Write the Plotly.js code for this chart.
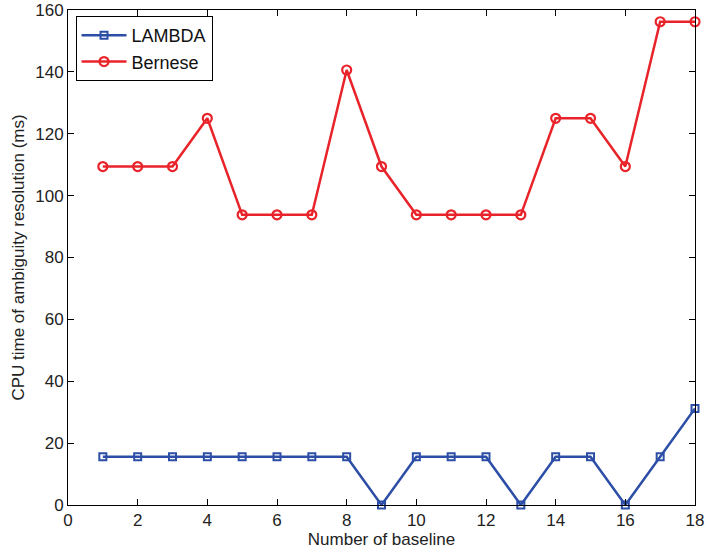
<!DOCTYPE html>
<html><head><meta charset="utf-8">
<script src="https://cdn.plot.ly/plotly-3.0.1.min.js"></script>
<style>body{margin:0;background:#fff}#c{width:705px;height:555px}</style>
</head><body><div id="c"></div>
<script>
var baselines = [1,2,3,4,5,6,7,8,9,10,11,12,13,14,15,16,17,18];
var lambdaMs = [15.6,15.6,15.6,15.6,15.6,15.6,15.6,15.6,0,15.6,15.6,15.6,0,15.6,15.6,0,15.6,31.2];
var berneseMs = [109.4,109.4,109.4,125,93.8,93.8,93.8,140.6,109.4,93.8,93.8,93.8,93.8,125,125,109.4,156.2,156.2];
var xTicks = [0,2,4,6,8,10,12,14,16,18];
var yTicks = [0,20,40,60,80,100,120,140,160];

var traces = [
 {x: baselines, y: lambdaMs, name: 'LAMBDA', mode: 'lines+markers', cliponaxis: false,
  line: {color: '#2d4ea6', width: 2.5},
  marker: {symbol: 'square-open', size: 7, color: '#2d4ea6', line: {width: 2, color: '#2d4ea6'}}},
 {x: baselines, y: berneseMs, name: 'Bernese', mode: 'lines+markers', cliponaxis: false,
  line: {color: '#e8232a', width: 2.5},
  marker: {symbol: 'circle-open', size: 9, color: '#e8232a', line: {width: 2.2, color: '#e8232a'}}}
];
var fnt = 'Liberation Sans, Arial';
var ax = {showgrid: false, zeroline: false, showline: true, mirror: 'ticks', linecolor: '#000', linewidth: 1,
  ticks: 'inside', ticklen: 6, tickcolor: '#000', tickfont: {family: fnt, size: 17, color: '#222'}};
var layout = {
  width: 705, height: 555, paper_bgcolor: '#fff', plot_bgcolor: '#fff',
  margin: {l: 68, r: 10, t: 10, b: 50},
  showlegend: true,
  legend: {x: 0.012, y: 0.988, xanchor: 'left', yanchor: 'top', bgcolor: '#fff', bordercolor: '#000', borderwidth: 1,
    font: {family: fnt, size: 18, color: '#111'}, tracegroupgap: 0, itemwidth: 45},
  xaxis: Object.assign({}, ax, {range: [0, 18], tickvals: xTicks, title: {text: 'Number of baseline', standoff: 2, font: {family: fnt, size: 17, color: '#222'}}}),
  yaxis: Object.assign({}, ax, {range: [0, 160], tickvals: yTicks, title: {text: 'CPU time of ambiguity resolution (ms)', standoff: 6, font: {family: fnt, size: 17, color: '#222'}}})
};
Plotly.newPlot('c', traces, layout, {displayModeBar: false});
</script></body></html>
